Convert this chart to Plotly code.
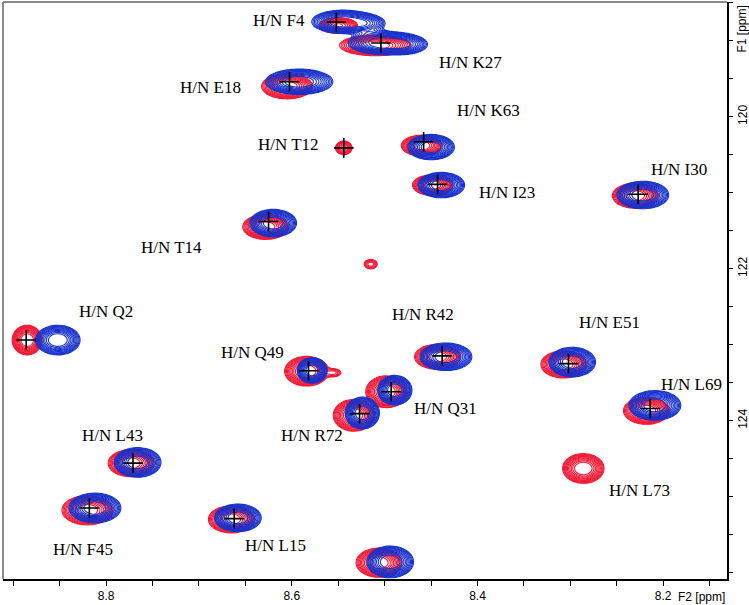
import numpy as np
import plotly.graph_objects as go

# ---- peak labels and assignment crosses (ppm) ----
label_text = ["H/N F4", "H/N K27", "H/N E18", "H/N T12", "H/N K63", "H/N I23", "H/N I30",
              "H/N T14", "H/N Q2", "H/N R42", "H/N E51", "H/N Q49", "H/N Q31", "H/N R72",
              "H/N L69", "H/N L43", "H/N L73", "H/N F45", "H/N L15"]
label_x = [8.614, 8.408, 8.688, 8.604, 8.388, 8.368, 8.183, 8.730, 8.80, 8.459, 8.258,
           8.642, 8.434, 8.578, 8.170, 8.793, 8.226, 8.825, 8.618]
label_y = [118.74, 119.29, 119.61, 120.37, 119.92, 121.0, 120.69, 121.72, 122.57, 122.6,
           122.71, 123.1, 123.84, 124.2, 123.53, 124.19, 124.92, 125.7, 125.64]

cross_x = [8.552, 8.504, 8.6025, 8.544, 8.458, 8.443, 8.227, 8.625, 8.886, 8.438, 8.302,
           8.582, 8.493, 8.527, 8.214, 8.771, 8.818, 8.662]
cross_y = [118.754, 119.03, 119.54, 120.41, 120.33, 120.89, 121.02, 121.38, 122.94, 123.148,
           123.25, 123.344, 123.62, 123.908, 123.84, 124.56, 125.15, 125.29]

# ---- spectrum 1 (blue) peak list: centre, linewidths, intensity ----
blue_x = [8.545, 8.525, 8.515, 8.500, 8.480, 8.592, 8.450, 8.439, 8.222, 8.620, 8.852,
          8.434, 8.298, 8.578, 8.489, 8.524, 8.209, 8.766, 8.812, 8.658, 8.494]
blue_y = [118.75, 118.77, 118.93, 119.03, 119.05, 119.54, 120.40, 120.90, 121.03, 121.40,
          122.94, 123.16, 123.23, 123.34, 123.60, 123.90, 123.80, 124.55, 125.15, 125.28, 125.86]
blue_sx = [0.012, 0.010, 0.008, 0.014, 0.010, 0.013, 0.009, 0.009, 0.010, 0.009, 0.0086,
           0.010, 0.009, 0.0058, 0.0066, 0.0066, 0.010, 0.009, 0.010, 0.009, 0.009]
blue_sy = [0.055, 0.05, 0.05, 0.055, 0.05, 0.06, 0.06, 0.06, 0.065, 0.065, 0.07,
           0.065, 0.07, 0.06, 0.07, 0.075, 0.07, 0.07, 0.07, 0.065, 0.075]
blue_amp = [1.0, 0.5, 0.15, 1.0, 0.5, 1.0, 1.0, 1.0, 1.0, 1.0, 1.0,
            1.0, 1.0, 1.0, 1.0, 1.0, 1.0, 1.0, 1.0, 1.0, 1.0]

# ---- spectrum 2 (red) peak list ----
red_x = [8.550, 8.510, 8.605, 8.544, 8.460, 8.448, 8.230, 8.628, 8.515, 8.885, 8.443,
         8.307, 8.584, 8.556, 8.498, 8.533, 8.218, 8.773, 8.286, 8.820, 8.665, 8.506]
red_y = [118.80, 119.06, 119.60, 120.41, 120.38, 120.90, 121.04, 121.45, 121.94, 122.94,
         123.16, 123.26, 123.35, 123.37, 123.62, 123.93, 123.87, 124.56, 124.63, 125.18,
         125.30, 125.87]
red_sx = [0.008, 0.014, 0.010, 0.004, 0.008, 0.008, 0.009, 0.009, 0.004, 0.0058, 0.009,
          0.009, 0.0085, 0.005, 0.008, 0.008, 0.009, 0.009, 0.008, 0.010, 0.009, 0.009]
red_sy = [0.04, 0.05, 0.06, 0.04, 0.05, 0.05, 0.06, 0.06, 0.035, 0.07, 0.06,
          0.065, 0.07, 0.03, 0.075, 0.075, 0.065, 0.065, 0.07, 0.07, 0.065, 0.07]
red_amp = [0.6, 0.9, 0.9, 0.25, 0.9, 0.9, 0.9, 0.9, 0.1, 1.0, 0.9,
           0.9, 1.0, 0.1, 1.0, 1.0, 0.9, 0.9, 1.0, 0.9, 0.9, 0.9]

x_ticks = [8.8, 8.6, 8.4, 8.2]
y_ticks = [120, 122, 124]

# ---- build 2D spectra on a grid ----
xg = np.arange(8.12, 8.93, 0.0025)
yg = np.arange(118.40, 126.20, 0.02)
X, Y = np.meshgrid(xg, yg)


def spectrum(px, py, sx, sy, amp):
    Z = np.zeros_like(X)
    for a, b, c, d, e in zip(px, py, sx, sy, amp):
        Z += e * np.exp(-0.5 * (((X - a) / c) ** 2 + ((Y - b) / d) ** 2))
    return np.round(np.log(Z + 1e-5), 2)


Zb = spectrum(blue_x, blue_y, blue_sx, blue_sy, blue_amp)
Zr = spectrum(red_x, red_y, red_sx, red_sy, red_amp)

BLUE = "rgb(24,50,204)"
RED = "rgb(240,24,52)"
levels = dict(coloring="lines", start=-3.9, end=-0.4, size=0.32, showlabels=False)

fig = go.Figure()
fig.add_trace(go.Contour(x=xg, y=yg, z=Zr, contours=levels, line=dict(width=1.1),
                         colorscale=[[0, RED], [1, RED]], showscale=False, hoverinfo="skip"))
fig.add_trace(go.Contour(x=xg, y=yg, z=Zb, contours=levels, line=dict(width=1.1),
                         colorscale=[[0, BLUE], [1, BLUE]], showscale=False, hoverinfo="skip"))
fig.add_trace(go.Scatter(x=cross_x, y=cross_y, mode="markers", hoverinfo="skip",
                         marker=dict(symbol="cross-thin", size=14, color="black",
                                     line=dict(width=1.6, color="black"))))

for t, lx, ly in zip(label_text, label_x, label_y):
    fig.add_annotation(x=lx, y=ly, text=t, showarrow=False,
                       font=dict(family="Liberation Serif", size=17, color="black"))

fig.add_annotation(xref="paper", yref="paper", x=1.0, y=0, yshift=-9, xanchor="right",
                   yanchor="top", text="F2 [ppm]", showarrow=False,
                   font=dict(family="Liberation Sans", size=12, color="black"))
fig.add_annotation(xref="paper", yref="paper", x=1.0, y=1.0, xanchor="center", yanchor="top",
                   xshift=14, yshift=-2, text="F1 [ppm]", textangle=-90, showarrow=False,
                   font=dict(family="Liberation Sans", size=12, color="black"))

# gray top/left frame
fig.add_shape(type="line", xref="paper", yref="paper", x0=0, x1=1, y0=1, y1=1,
              line=dict(color="#8c8c8c", width=2))
fig.add_shape(type="line", xref="paper", yref="paper", x0=0, x1=0, y0=0, y1=1,
              line=dict(color="#8c8c8c", width=2))

fig.update_layout(
    width=749, height=605, showlegend=False,
    margin=dict(l=3, r=22, t=2, b=26, autoexpand=False),
    paper_bgcolor="white", plot_bgcolor="white",
    font=dict(family="Liberation Sans", size=12, color="black"),
    xaxis=dict(range=[8.911, 8.1313], tickvals=x_ticks, ticktext=[f"{v:.1f}" for v in x_ticks],
               ticks="outside", ticklen=5, tickwidth=1.3, tickcolor="black",
               minor=dict(dtick=0.05, ticks="outside", ticklen=5, tickwidth=1.3, tickcolor="black"),
               showline=True, linecolor="black", linewidth=1.5, showgrid=False, zeroline=False,
               tickfont=dict(size=12), automargin=False),
    yaxis=dict(range=[126.085, 118.49], side="right", tickvals=y_ticks,
               ticks="outside", ticklen=4, tickwidth=1.3, tickcolor="black", tickangle=-90,
               minor=dict(dtick=0.5, ticks="outside", ticklen=4, tickwidth=1.3, tickcolor="black"),
               showline=True, linecolor="black", linewidth=1.5, showgrid=False, zeroline=False,
               tickfont=dict(size=12), automargin=False),
)

fig.write_html("out.html", config={"displayModeBar": False},
               post_script="document.body.style.margin='0';document.body.style.padding='0';"
                           "document.documentElement.style.overflow='hidden';")
